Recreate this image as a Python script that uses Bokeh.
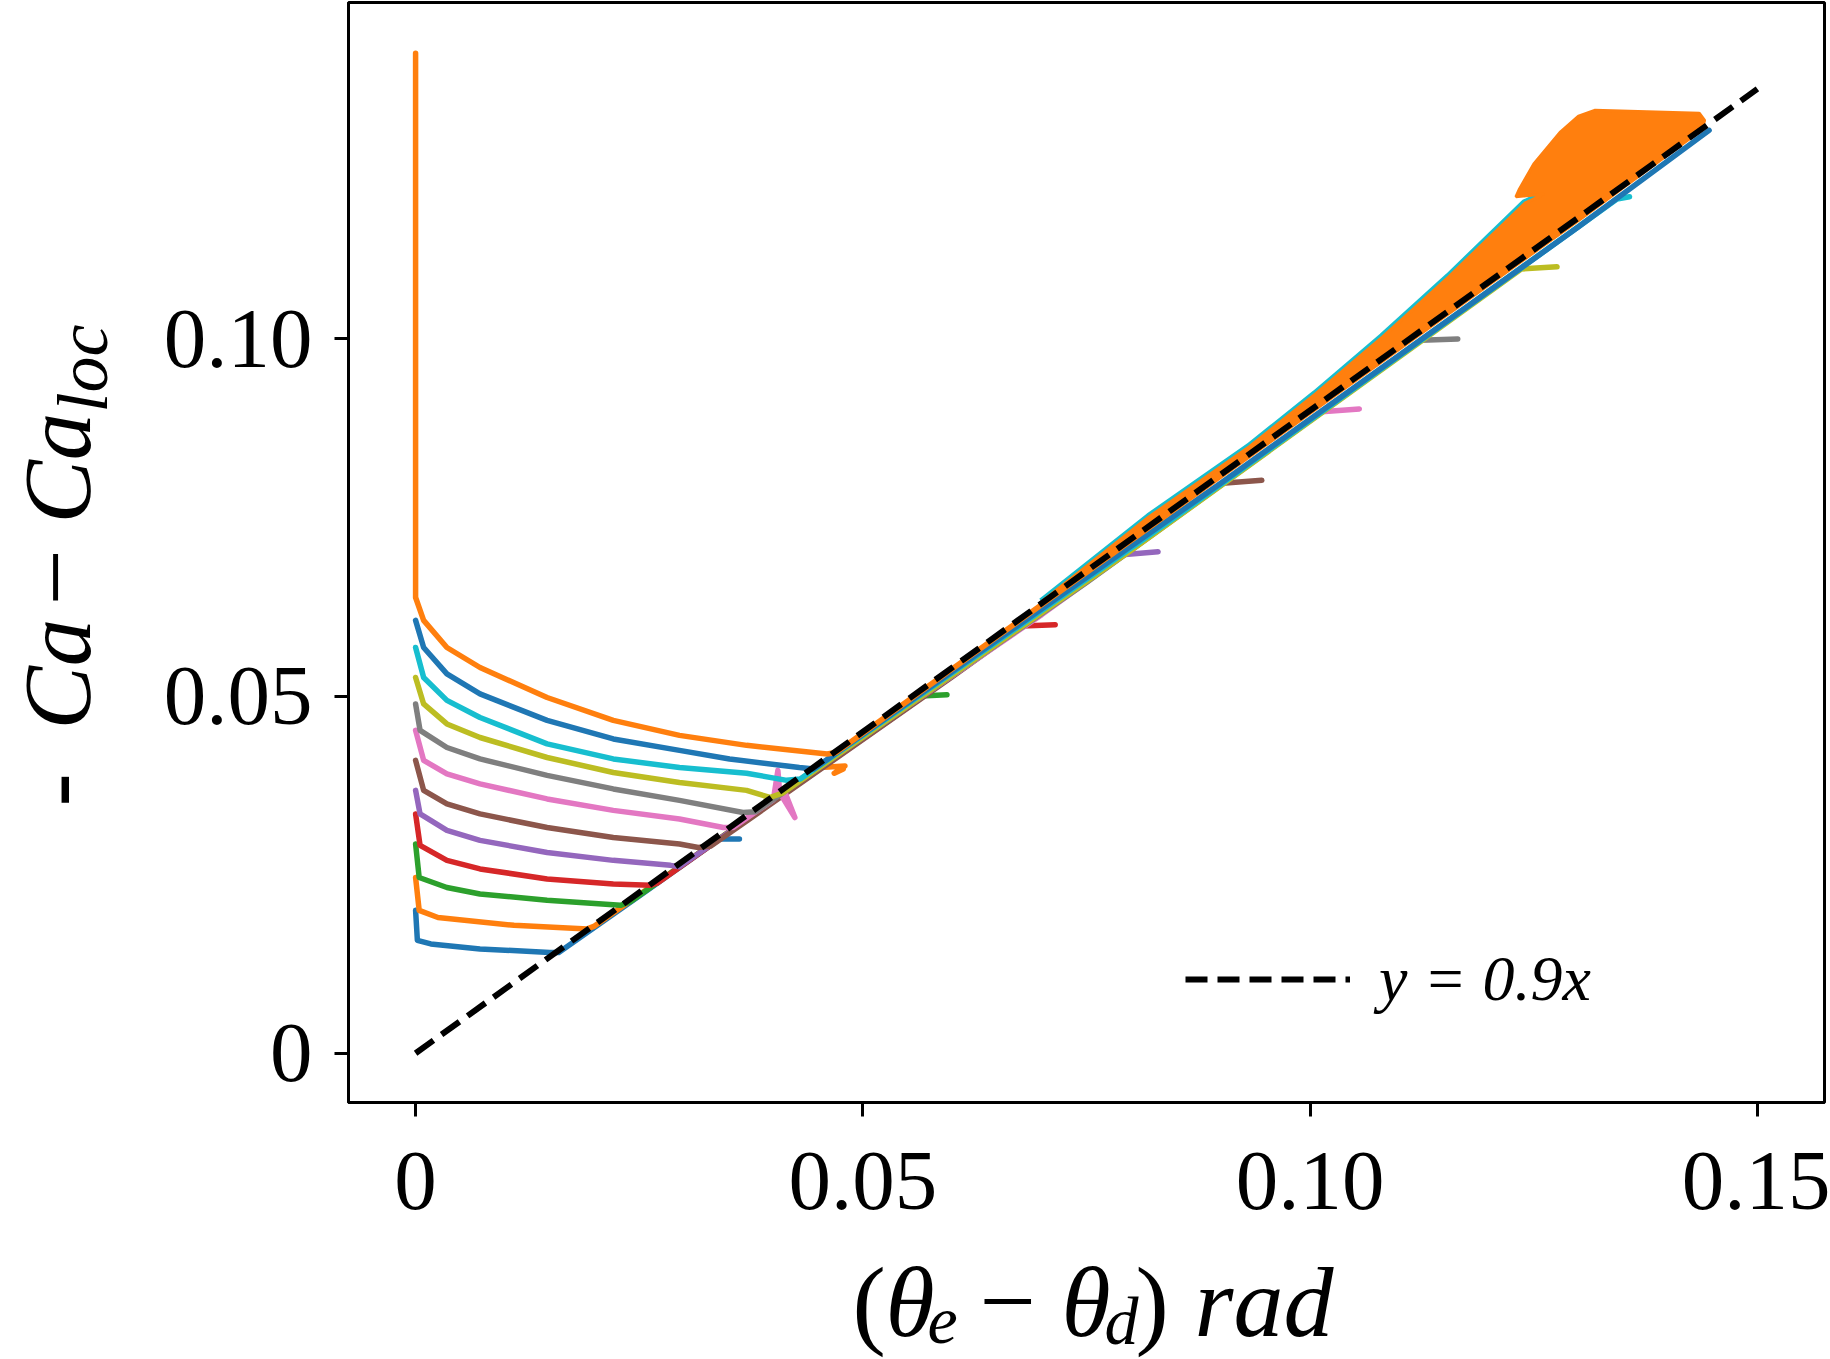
#!/usr/bin/env python3

from bokeh.core.properties import value
from bokeh.layouts import column, row
from bokeh.models import FixedTicker, Legend, LegendItem, Range1d
from bokeh.palettes import Category10_10
from bokeh.plotting import figure
from bokeh.embed import file_html
from bokeh.resources import INLINE


# axis ticks
x_ticks = [0, 0.05, 0.10, 0.15]
x_tick_labels = ["0", "0.05", "0.10", "0.15"]
y_ticks = [0, 0.05, 0.10]
y_tick_labels = ["0", "0.05", "0.10"]

# fitted line y = 0.9x
fit_x = [0.0, 0.15]
fit_y = [0.0, 0.135]

# the twelve runs
x_00 = [0, 0.0002, 0.0017, 0.0072, 0.0150, 0.0160, 0.0250, 0.0340, 0.0362]
y_00 = [0.0200, 0.0158, 0.0153, 0.0146, 0.0141, 0.0141, 0.0220, 0.0300, 0.0300]

x_01 = [0, 0.0004, 0.0025, 0.0110, 0.0192, 0.0200, 0.0320, 0.0452, 0.0480, 0.0468, 0.0478]
y_01 = [0.0246, 0.0200, 0.0190, 0.0179, 0.0174, 0.0178, 0.0283, 0.0400, 0.0402, 0.0392, 0.0398]

x_02 = [0, 0.0004, 0.0035, 0.0072, 0.0147, 0.0229, 0.0240, 0.0400, 0.0565, 0.0594]
y_02 = [0.0293, 0.0246, 0.0232, 0.0223, 0.0214, 0.0207, 0.0212, 0.0354, 0.0500, 0.0502]

x_03 = [0, 0.0005, 0.0035, 0.0072, 0.0147, 0.0221, 0.0262, 0.0270, 0.0470, 0.0678, 0.0715]
y_03 = [0.0335, 0.0291, 0.0270, 0.0258, 0.0244, 0.0237, 0.0235, 0.0238, 0.0415, 0.0598, 0.0600]

x_04 = [0, 0.0005, 0.0035, 0.0072, 0.0147, 0.0221, 0.0285, 0.0295, 0.0530, 0.0790, 0.0830]
y_04 = [0.0368, 0.0335, 0.0312, 0.0298, 0.0281, 0.0270, 0.0263, 0.0261, 0.0466, 0.0698, 0.0702]

x_05 = [0, 0.0009, 0.0035, 0.0072, 0.0147, 0.0221, 0.0295, 0.0316, 0.0330, 0.0600, 0.0902, 0.0946]
y_05 = [0.0410, 0.0368, 0.0349, 0.0335, 0.0316, 0.0302, 0.0293, 0.0288, 0.0290, 0.0527, 0.0798, 0.0802]

x_06 = [0, 0.0009, 0.0035, 0.0072, 0.0147, 0.0221, 0.0295, 0.0344, 0.0355, 0.0400,
        0.0405, 0.0407, 0.0424, 0.0412, 0.0700, 0.1013, 0.1055]
y_06 = [0.0452, 0.0410, 0.0391, 0.0377, 0.0356, 0.0340, 0.0328, 0.0316, 0.0316, 0.0355,
        0.0396, 0.0365, 0.0330, 0.0368, 0.0614, 0.0898, 0.0902]

x_07 = [0, 0.0005, 0.0035, 0.0072, 0.0147, 0.0221, 0.0295, 0.0366, 0.0380, 0.0750, 0.1124, 0.1165]
y_07 = [0.0489, 0.0452, 0.0428, 0.0412, 0.0389, 0.0370, 0.0354, 0.0337, 0.0338, 0.0659, 0.0998, 0.1000]

x_08 = [0, 0.0009, 0.0035, 0.0072, 0.0147, 0.0221, 0.0295, 0.0370, 0.0396, 0.0410, 0.0800, 0.1236, 0.1276]
y_08 = [0.0526, 0.0489, 0.0461, 0.0442, 0.0414, 0.0393, 0.0379, 0.0368, 0.0358, 0.0364, 0.0704, 0.1098, 0.1101]

x_09 = [0, 0.0009, 0.0035, 0.0072, 0.0147, 0.0221, 0.0295, 0.0370, 0.0415, 0.0430, 0.0850, 0.1343, 0.1357]
y_09 = [0.0568, 0.0526, 0.0494, 0.0470, 0.0433, 0.0412, 0.0400, 0.0392, 0.0382, 0.0384, 0.0751, 0.1196, 0.1199]

x_10 = [0, 0.0009, 0.0035, 0.0072, 0.0147, 0.0221, 0.0295, 0.0351, 0.0429, 0.0445, 0.0900, 0.1300, 0.1446]
y_10 = [0.0606, 0.0568, 0.0531, 0.0503, 0.0466, 0.0440, 0.0424, 0.0412, 0.0400, 0.0398, 0.0798, 0.1157, 0.1292]

x_11 = [0, 0, 0.0009, 0.0035, 0.0072, 0.0147, 0.0221, 0.0295, 0.0370, 0.0460, 0.0470, 0.0900, 0.1300, 0.1440]
y_11 = [0.1400, 0.0638, 0.0606, 0.0568, 0.0540, 0.0498, 0.0466, 0.0445, 0.0431, 0.0419, 0.0421, 0.0808, 0.1168, 0.1297]

# upper edge of the oscillating band of the last run
edge_x = [0.0700, 0.0820, 0.0932, 0.1006, 0.1081, 0.1155, 0.1240, 0.1262]
edge_y = [0.0632, 0.0751, 0.0849, 0.0923, 0.1003, 0.1087, 0.1190, 0.1203]

# outline of the oscillating band + blob of the last run
band_x = [0.0700, 0.0820, 0.0932, 0.1006, 0.1081, 0.1155, 0.1240, 0.1262, 0.1230, 0.1234,
          0.1250, 0.1280, 0.1300, 0.1318, 0.1435, 0.1441, 0.1438, 0.1200, 0.1000, 0.0700]
band_y = [0.0632, 0.0751, 0.0849, 0.0923, 0.1003, 0.1087, 0.1190, 0.1203, 0.1199, 0.1210,
          0.1245, 0.1290, 0.1312, 0.1320, 0.1316, 0.1306, 0.1294, 0.1078, 0.0898, 0.0628]

runs = [
    (x_00, y_00), (x_01, y_01), (x_02, y_02), (x_03, y_03),
    (x_04, y_04), (x_05, y_05), (x_06, y_06), (x_07, y_07),
    (x_08, y_08), (x_09, y_09), (x_10, y_10), (x_11, y_11),
]

serif = "Liberation Serif"
ylab_w = 150
main_w = 1830 - ylab_w
main_h = 1245
xlab_h = 1359 - main_h
border_left = 198
border_right = 6

p = figure(
    width=main_w,
    height=main_h,
    output_backend="svg",
    toolbar_location=None,
    x_range=Range1d(-0.0075, 0.1575),
    y_range=Range1d(-0.0069, 0.1471),
    min_border_left=border_left,
    min_border_right=border_right,
    min_border_top=2,
    min_border_bottom=main_h - 1102,
)

for i, (xs, ys) in enumerate(runs):
    colour = Category10_10[i % 10]
    if i == 11:
        # cyan edge peeking out above the orange band
        p.line(edge_x, edge_y, color=Category10_10[9], line_width=8, line_join="round")
    p.line(xs, ys, color=colour, line_width=5.5, line_join="round", line_cap="round")

p.patch(band_x, band_y, fill_color=Category10_10[1], line_color=Category10_10[1], line_width=3)

fit = p.line(fit_x, fit_y, color="black", line_width=6, line_dash="22 10")

legend = Legend(
    items=[LegendItem(label="y = 0.9x", renderers=[fit])],
    location=(837, 86),
    border_line_color=None,
    background_fill_alpha=0,
    glyph_width=165,
    glyph_height=60,
    label_height=60,
    label_standoff=29,
    padding=0,
    margin=0,
    label_text_font=serif,
    label_text_font_style="italic",
    label_text_font_size="64px",
    label_text_color="black",
)
p.add_layout(legend)

p.xgrid.grid_line_color = None
p.ygrid.grid_line_color = None
p.outline_line_color = "black"
p.outline_line_width = 3
p.outline_line_alpha = 1

p.xaxis.ticker = FixedTicker(ticks=x_ticks)
p.yaxis.ticker = FixedTicker(ticks=y_ticks)
p.xaxis.major_label_overrides = dict(zip(x_ticks, x_tick_labels))
p.yaxis.major_label_overrides = dict(zip(y_ticks, y_tick_labels))
p.axis.axis_line_width = 3
p.axis.major_tick_line_width = 3
p.axis.major_tick_out = 14
p.axis.major_tick_in = 0
p.axis.minor_tick_line_color = None
p.axis.major_label_text_font = serif
p.axis.major_label_text_font_size = "85px"
p.axis.major_label_text_color = "black"
p.xaxis.major_label_standoff = 36
p.yaxis.major_label_standoff = 22


def label_fig(w, h, left=0, right=0):
    f = figure(
        width=w,
        height=h,
        output_backend="svg",
        toolbar_location=None,
        x_range=Range1d(0, w - left - right),
        y_range=Range1d(0, h),
        min_border=0,
        min_border_left=left,
        min_border_right=right,
    )
    f.axis.visible = False
    f.grid.visible = False
    f.outline_line_color = None
    return f


def put(f, x, y, text, size="100px", style="italic", angle=0):
    f.text(
        x=[x],
        y=[y],
        text=[text],
        angle=angle,
        text_font=value(serif),
        text_font_size=value(size),
        text_font_style=style,
        text_color="black",
        text_align="left",
        text_baseline="middle",
    )


# y axis title: -Ca - Ca_loc, reading upwards
ylab = label_fig(ylab_w, 1359)
up = 1.5707963
put(ylab, 56, 553, "-", style="normal", angle=up)
put(ylab, 57, 630, "Ca", size="95px", angle=up)
put(ylab, 56, 754, "−", style="normal", angle=up)
put(ylab, 57, 836, "Ca", size="95px", angle=up)
put(ylab, 82, 947, "loc", size="72px", angle=up)

# x axis title: (theta_e - theta_d) rad, same frame edges as the plot
xlab = label_fig(main_w, xlab_h, border_left, border_right)
put(xlab, 504, 57, "(", style="normal")
put(xlab, 537, 57, "θ")
put(xlab, 579, 39, "e", size="68px")
put(xlab, 631, 57, "−", style="normal")
put(xlab, 713, 57, "θ")
put(xlab, 756, 39, "d", size="68px")
put(xlab, 787, 57, ")", style="normal")
put(xlab, 846, 57, "rad")

layout = row(ylab, column(p, xlab))

open("out.html", "w").write(file_html(layout, INLINE))
